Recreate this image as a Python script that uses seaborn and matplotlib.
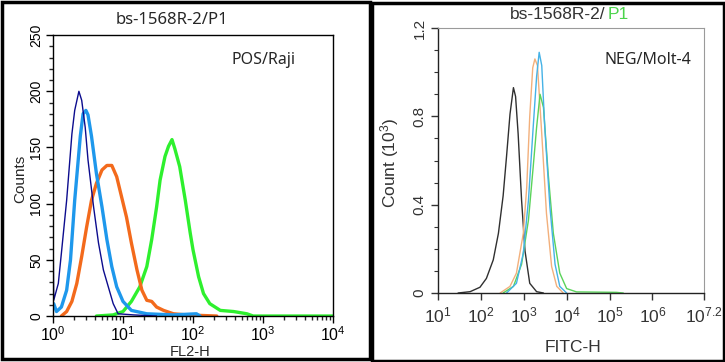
import numpy as np
import pandas as pd
import matplotlib
matplotlib.use("Agg")
import matplotlib.pyplot as plt
import matplotlib.ticker as mticker
from matplotlib.patches import Rectangle
import seaborn as sns

# ---- left panel (POS/Raji), x given as log10(FL2-H) ----
navy_log = [0.0, 0.0, 0.01, 0.076, 0.12, 0.195, 0.27, 0.31, 0.37, 0.41, 0.46, 0.50, 0.58,
            0.65, 0.72, 0.79, 0.86, 0.93, 1.15, 1.48]
navy_cnt = [0, 84, 14, 29, 56, 103, 162, 183, 200, 192, 168, 139, 97, 65, 41, 26, 11, 2, 1, 0]

blue_log = [0.01, 0.05, 0.12, 0.195, 0.25, 0.31, 0.39, 0.43, 0.47, 0.50, 0.55, 0.62, 0.70,
            0.77, 0.84, 0.91, 1.0, 1.12, 1.34, 1.72, 2.05, 2.1]
blue_cnt = [11, 4, 8, 23, 50, 103, 160, 180, 183, 179, 160, 127, 97, 68, 44, 26, 13, 5, 2,
            1, 2, 0]

orange_log = [0.12, 0.195, 0.27, 0.34, 0.41, 0.48, 0.55, 0.62, 0.70, 0.77, 0.84, 0.91, 0.98,
              1.05, 1.12, 1.20, 1.27, 1.34, 1.41, 1.48, 1.58, 1.72, 1.91, 2.34]
orange_cnt = [0, 4, 13, 29, 53, 79, 103, 118, 130, 134, 134, 124, 106, 88, 65, 41, 23, 14,
              13, 8, 5, 2, 1, 0]

green_log = [0.62, 0.86, 1.0, 1.12, 1.24, 1.34, 1.41, 1.48, 1.53, 1.60, 1.65, 1.70, 1.74,
             1.81, 1.89, 1.96, 2.0, 2.08, 2.15, 2.24, 2.39, 2.58, 2.77, 2.86, 4.0]
green_cnt = [0, 1, 4, 13, 26, 44, 68, 97, 121, 142, 151, 157, 149, 133, 103, 74, 59, 35, 20,
             11, 5, 4, 2, 0, 0]

# ---- right panel (NEG/Molt-4), x given as log10(FITC-H), counts in 10^3 ----
r_black_log = [1.47, 1.75, 1.98, 2.13, 2.29, 2.41, 2.52, 2.60, 2.68, 2.76, 2.81, 2.87, 2.95,
               3.03, 3.14, 3.30, 3.46]
r_black_cnt = [0, 0.006, 0.026, 0.066, 0.15, 0.27, 0.44, 0.62, 0.81, 0.93, 0.89, 0.72, 0.42,
               0.19, 0.044, 0.006, 0]

r_orange_log = [2.45, 2.68, 2.83, 2.99, 3.07, 3.14, 3.21, 3.26, 3.32, 3.42, 3.53, 3.65, 3.77, 3.92]
r_orange_cnt = [0, 0.03, 0.09, 0.27, 0.48, 0.80, 1.02, 1.06, 1.03, 0.72, 0.36, 0.12, 0.03, 0]

r_blue_log = [2.60, 2.83, 2.99, 3.11, 3.22, 3.30, 3.36, 3.42, 3.49, 3.61, 3.73, 3.84, 4.0]
r_blue_cnt = [0, 0.044, 0.18, 0.42, 0.75, 0.98, 1.09, 1.03, 0.75, 0.39, 0.13, 0.03, 0]

r_green_log = [2.52, 2.76, 2.95, 3.11, 3.22, 3.30, 3.38, 3.46, 3.57, 3.69, 3.84, 4.0, 4.23,
               5.16, 5.32]
r_green_cnt = [0, 0.03, 0.13, 0.33, 0.57, 0.75, 0.90, 0.84, 0.54, 0.27, 0.09, 0.02, 0.005,
               0.003, 0]

sns.set_style("ticks")
plt.rcParams['font.family'] = ['Liberation Sans', 'DejaVu Sans']
plt.rcParams['mathtext.fontset'] = 'custom'
plt.rcParams['mathtext.rm'] = 'Liberation Sans'
plt.rcParams['mathtext.it'] = 'Liberation Sans:italic'


def hist_line(ax, logs, counts, color, lw):
    df = pd.DataFrame({'x': np.power(10.0, logs), 'y': counts})
    sns.lineplot(data=df, x='x', y='y', ax=ax, color=color, linewidth=lw,
                 sort=False, estimator=None)


fig = plt.figure(figsize=(7.25, 3.62), dpi=100)

# left panel
ax1 = fig.add_axes([0.0731, 0.127, 0.3862, 0.776])
hist_line(ax1, green_log, green_cnt, '#2ef02e', 2.4)
hist_line(ax1, orange_log, orange_cnt, '#f36a1c', 2.4)
hist_line(ax1, blue_log, blue_cnt, '#1e98ec', 2.4)
hist_line(ax1, navy_log, navy_cnt, '#0c0c8e', 1.0)
ax1.set_xscale('log')
ax1.set_xlim(1, 1e4)
ax1.set_ylim(0, 250)
ax1.set_xticks([1, 10, 100, 1000, 10000])
ax1.set_xticklabels([r'$10^0$', r'$10^1$', r'$10^2$', r'$10^3$', r'$10^4$'])
ax1.xaxis.set_minor_locator(mticker.LogLocator(base=10, subs=np.arange(2, 10)))
ax1.xaxis.set_minor_formatter(mticker.NullFormatter())
ax1.set_yticks([0, 50, 100, 150, 200, 250])
ax1.yaxis.set_minor_locator(mticker.MultipleLocator(10))
ax1.tick_params(axis='both', which='major', direction='out', length=5, width=1,
                labelsize=10, colors='black', pad=2)
ax1.tick_params(axis='x', which='major', labelsize=11.5)
ax1.tick_params(axis='both', which='minor', direction='out', length=3, width=1)
for lab in ax1.get_yticklabels():
    lab.set_rotation(90)
    lab.set_va('center')
for sp in ax1.spines.values():
    sp.set_visible(True)
    sp.set_color('black')
    sp.set_linewidth(1)
ax1.set_xlabel('FL2-H', fontsize=10.5)
ax1.set_ylabel('Counts', fontsize=11)
ax1.xaxis.set_label_coords(0.489, -0.128)
ax1.xaxis.label.set_va('center')
ax1.yaxis.set_label_coords(-0.118, 0.49)
ax1.yaxis.label.set_va('center')
fig.text(0.237, 0.945, 'bs-1568R-2/P1', ha='center', va='center', fontsize=12,
         family=['Noto Sans', 'DejaVu Sans'])
fig.text(0.363, 0.834, 'POS/Raji', ha='center', va='center', fontsize=11.5,
         family=['Noto Sans', 'DejaVu Sans'])

# right panel
ax2 = fig.add_axes([0.604, 0.1906, 0.367, 0.732])
hist_line(ax2, r_black_log, r_black_cnt, '#303030', 1.0)
hist_line(ax2, r_orange_log, r_orange_cnt, '#f2b07c', 1.0)
hist_line(ax2, r_green_log, r_green_cnt, '#5ad35a', 1.0)
hist_line(ax2, r_blue_log, r_blue_cnt, '#45b2e6', 1.0)
ax2.set_xscale('log')
ax2.set_xlim(10, 10 ** 7.2)
ax2.set_ylim(0, 1.2)
ax2.set_xticks([1e1, 1e2, 1e3, 1e4, 1e5, 1e6, 10 ** 7.2])
ax2.set_xticklabels([r'$10^1$', r'$10^2$', r'$10^3$', r'$10^4$', r'$10^5$', r'$10^6$',
                     r'$10^{7.2}$'])
ax2.xaxis.set_minor_locator(mticker.LogLocator(base=10, subs=np.arange(2, 10)))
ax2.xaxis.set_minor_formatter(mticker.NullFormatter())
ax2.set_yticks([0, 0.4, 0.8, 1.2])
ax2.set_yticklabels(['0', '0.4', '0.8', '1.2'])
ax2.yaxis.set_minor_locator(mticker.MultipleLocator(0.1))
ax2.tick_params(axis='both', which='major', direction='out', length=5, width=1,
                labelsize=11, colors='#333333', pad=3)
ax2.tick_params(axis='x', which='major', labelsize=12.5, pad=4)
ax2.tick_params(axis='both', which='minor', direction='out', length=3, width=0.8,
                colors='#333333')
for lab in ax2.get_yticklabels():
    lab.set_rotation(90)
    lab.set_va('center')
for name, sp in ax2.spines.items():
    sp.set_visible(True)
    if name in ('top', 'right'):
        sp.set_color('#9a9a9a')
        sp.set_linewidth(0.8)
    else:
        sp.set_color('#222222')
        sp.set_linewidth(1)
ax2.set_xlabel('FITC-H', fontsize=12.5, color='#333333')
ax2.set_ylabel(r'Count (10$^3$)', fontsize=12.5, color='#333333')
ax2.xaxis.set_label_coords(0.507, -0.204)
ax2.xaxis.label.set_va('center')
ax2.yaxis.set_label_coords(-0.18, 0.49)
ax2.yaxis.label.set_va('center')
fig.text(0.835, 0.959, 'bs-1568R-2/', ha='right', va='center', fontsize=12.5,
         color='#333333')
fig.text(0.838, 0.959, 'P1', ha='left', va='center', fontsize=12.5, color='#4cd44c')
fig.text(0.894, 0.834, 'NEG/Molt-4', ha='center', va='center', fontsize=11.5,
         family=['Noto Sans', 'DejaVu Sans'])

# outer panel frames
fig.add_artist(Rectangle((1.5 / 725, 3 / 362), 368 / 725, 357 / 362,
                         transform=fig.transFigure, fill=False, lw=2.5, color='black'))
fig.add_artist(Rectangle((371.5 / 725, 1.5 / 362), 352 / 725, 358 / 362,
                         transform=fig.transFigure, fill=False, lw=2.5, color='black'))

fig.savefig('out.png', dpi=100)
